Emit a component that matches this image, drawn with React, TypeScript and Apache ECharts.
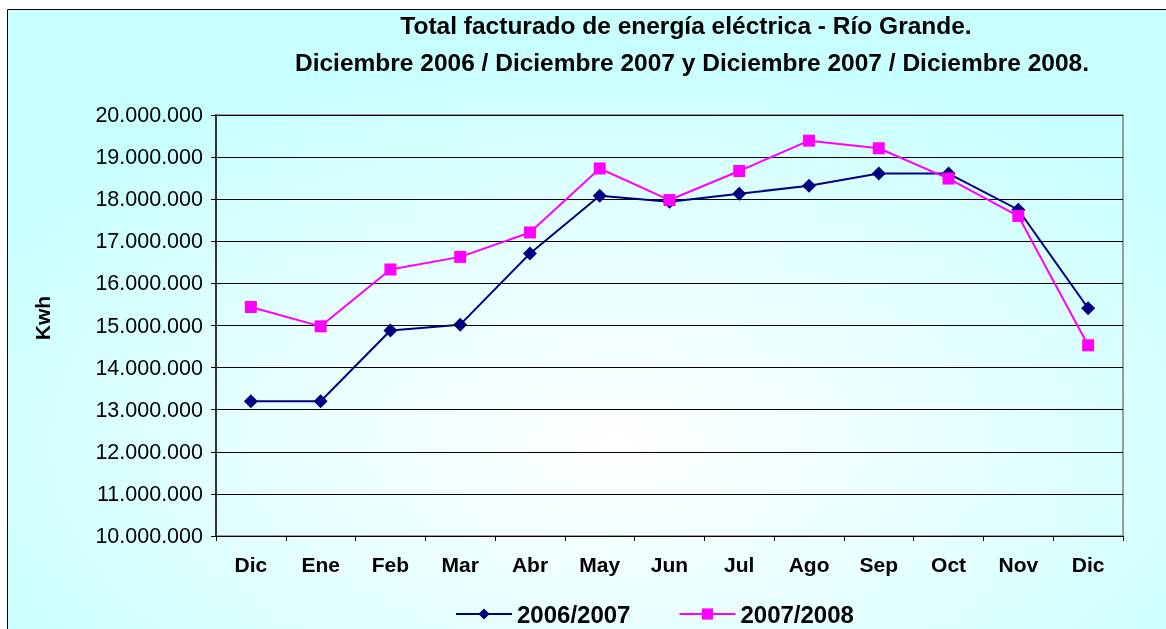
import React, { useEffect, useRef } from "react";
import * as echarts from "echarts";

const categories = ["Dic", "Ene", "Feb", "Mar", "Abr", "May", "Jun", "Jul", "Ago", "Sep", "Oct", "Nov", "Dic"];
const serie0607 = [13200000, 13200000, 14880000, 15020000, 16710000, 18080000, 17940000, 18130000, 18320000, 18610000, 18610000, 17750000, 15410000];
const serie0708 = [15440000, 14980000, 16330000, 16630000, 17210000, 18730000, 17980000, 18670000, 19390000, 19210000, 18490000, 17600000, 14530000];
const seriesNames = ["2006/2007", "2007/2008"];
const titleLines = [
  "Total facturado de energía eléctrica - Río Grande.",
  "Diciembre 2006 / Diciembre 2007 y Diciembre 2007 / Diciembre 2008.",
];
const yAxisName = "Kwh";

const FONT = "'Liberation Sans', Arial, sans-serif";

function fmt(v: number): string {
  return Math.round(v)
    .toString()
    .replace(/\B(?=(\d{3})+(?!\d))/g, ".");
}

export default function App() {
  const ref = useRef<HTMLDivElement>(null);
  useEffect(() => {
    if (!ref.current) return;
    const chart = echarts.init(ref.current, null, { renderer: "svg" });
    chart.setOption({
      animation: false,
      backgroundColor: "transparent",
      graphic: [
        {
          type: "rect",
          z: -10,
          silent: true,
          shape: { x: 7.5, y: 9.5, width: 1170, height: 640 },
          style: {
            fill: new echarts.graphic.RadialGradient(0.52, 0.68, 0.62, [
              { offset: 0, color: "#ffffff" },
              { offset: 0.5, color: "#e6ffff" },
              { offset: 1, color: "#c8ffff" },
            ]),
            stroke: "#000000",
            lineWidth: 1,
          },
        },
        {
          type: "text",
          z: 5,
          style: {
            text: titleLines[0],
            x: 686,
            y: 25,
            align: "center",
            verticalAlign: "middle",
            font: `bold 24.5px ${FONT}`,
            fill: "#000",
          },
        },
        {
          type: "text",
          z: 5,
          style: {
            text: titleLines[1],
            x: 692,
            y: 62,
            align: "center",
            verticalAlign: "middle",
            font: `bold 24.5px ${FONT}`,
            fill: "#000",
          },
        },
        {
          type: "text",
          z: 5,
          x: 42,
          y: 318,
          rotation: Math.PI / 2,
          style: {
            text: yAxisName,
            x: 0,
            y: 0,
            align: "center",
            verticalAlign: "middle",
            font: `bold 21px ${FONT}`,
            fill: "#000",
          },
        },
      ],
      grid: {
        left: 216,
        top: 115,
        right: 43,
        bottom: 93,
        show: true,
        borderColor: "#808080",
        borderWidth: 1.5,
        backgroundColor: "transparent",
      },
      legend: {
        top: 597,
        left: 450,
        itemWidth: 56,
        itemHeight: 14,
        itemGap: 48,
        textStyle: { fontFamily: FONT, fontWeight: "bold", fontSize: 24, color: "#000" },
        data: seriesNames,
      },
      xAxis: {
        type: "category",
        data: categories,
        boundaryGap: true,
        axisLine: { show: true, lineStyle: { color: "#000", width: 1 } },
        axisTick: { show: true, length: 5, alignWithLabel: false, lineStyle: { color: "#000" } },
        axisLabel: {
          fontFamily: FONT,
          fontWeight: "bold",
          fontSize: 21,
          color: "#000",
          margin: 18,
          interval: 0,
        },
        splitLine: { show: false },
      },
      yAxis: {
        type: "value",
        min: 10000000,
        max: 20000000,
        interval: 1000000,
        axisLine: { show: true, lineStyle: { color: "#333", width: 2 } },
        axisTick: { show: true, length: 5, lineStyle: { color: "#000" } },
        axisLabel: {
          fontFamily: FONT,
          fontSize: 21.5,
          color: "#000",
          margin: 13,
          formatter: (v: number) => fmt(v),
        },
        splitLine: { show: true, lineStyle: { color: "#000", width: 1 } },
      },
      series: [
        {
          name: seriesNames[0],
          type: "line",
          data: serie0607,
          symbol: "diamond",
          symbolSize: 14,
          itemStyle: { color: "#000080" },
          lineStyle: { color: "#000080", width: 2 },
          z: 3,
        },
        {
          name: seriesNames[1],
          type: "line",
          data: serie0708,
          symbol: "rect",
          symbolSize: 12,
          itemStyle: { color: "#ff00ff" },
          lineStyle: { color: "#ff00ff", width: 2 },
          z: 4,
        },
      ],
    });
    return () => chart.dispose();
  }, []);
  return (
    <div
      ref={ref}
      style={{ position: "fixed", left: 0, top: 0, width: 1166, height: 629 }}
    />
  );
}
